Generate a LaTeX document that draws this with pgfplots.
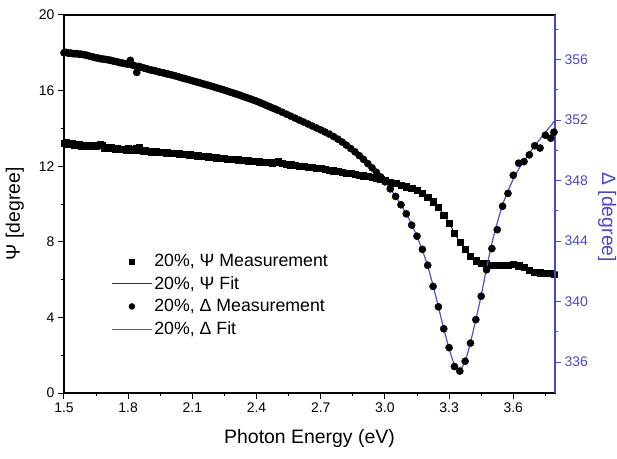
\documentclass[border=0pt]{standalone}
\usepackage{fontspec}
\setmainfont{Liberation Sans}
\usepackage{pgfplots}
\usepackage{pgfplotstable}
\pgfplotsset{compat=1.18}
\definecolor{dblue}{RGB}{72,72,205}
\definecolor{fitblue}{RGB}{80,80,210}

% measured Psi and Delta (degree) vs photon energy (eV)
\pgfplotstableread{
E psi del
1.50 13.20 356.45
1.51 13.24 356.48
1.52 13.16 356.42
1.53 13.19 356.44
1.54 13.22 356.40
1.55 13.12 356.38
1.56 13.15 356.40
1.57 13.17 356.35
1.58 13.08 356.36
1.59 13.12 356.33
1.60 13.10 356.30
1.61 13.06 356.28
1.62 13.08 356.22
1.63 13.05 356.20
1.64 13.09 356.15
1.65 13.04 356.12
1.66 13.10 356.10
1.67 13.18 356.06
1.68 13.12 356.04
1.69 12.98 356.02
1.70 12.96 356.00
1.71 12.99 355.97
1.72 13.02 355.95
1.73 12.94 355.90
1.74 12.92 355.88
1.75 12.95 355.85
1.76 12.90 355.80
1.77 12.88 355.78
1.78 12.92 355.75
1.79 12.86 355.72
1.80 12.94 355.70
1.81 12.90 355.95
1.82 12.84 355.64
1.83 12.86 355.60
1.84 12.96 355.15
1.85 13.00 355.55
1.86 12.84 355.50
1.87 12.80 355.46
1.88 12.82 355.42
1.89 12.78 355.38
1.90 12.80 355.33
1.91 12.76 355.30
1.92 12.74 355.28
1.93 12.80 355.24
1.94 12.76 355.20
1.95 12.74 355.16
1.96 12.72 355.14
1.97 12.74 355.10
1.98 12.71 355.06
1.99 12.70 355.03
2.00 12.70 355.00
2.0125 12.69 354.95
2.0250 12.68 354.90
2.0375 12.66 354.85
2.0500 12.65 354.80
2.0625 12.64 354.75
2.0750 12.62 354.70
2.0875 12.61 354.65
2.1000 12.60 354.60
2.1125 12.58 354.55
2.1250 12.56 354.50
2.1375 12.55 354.45
2.1500 12.53 354.40
2.1625 12.51 354.35
2.1750 12.50 354.30
2.1875 12.48 354.25
2.2000 12.46 354.20
2.2125 12.45 354.14
2.2250 12.43 354.09
2.2375 12.42 354.03
2.2500 12.41 353.98
2.2625 12.39 353.92
2.2750 12.38 353.86
2.2875 12.36 353.81
2.3000 12.35 353.75
2.3125 12.34 353.69
2.3250 12.32 353.63
2.3375 12.31 353.56
2.3500 12.30 353.50
2.3625 12.29 353.44
2.3750 12.27 353.38
2.3875 12.26 353.31
2.4000 12.25 353.25
2.4125 12.24 353.18
2.4250 12.23 353.10
2.4375 12.22 353.03
2.4500 12.21 352.95
2.4625 12.20 352.88
2.4750 12.19 352.80
2.4875 12.22 352.73
2.5000 12.28 352.65
2.52 12.14 352.52
2.54 12.11 352.39
2.56 12.08 352.26
2.58 12.05 352.13
2.60 12.02 352.00
2.62 11.99 351.87
2.64 11.96 351.74
2.66 11.94 351.61
2.68 11.91 351.48
2.70 11.90 351.35
2.72 11.84 351.21
2.74 11.80 351.07
2.76 11.76 350.91
2.78 11.72 350.74
2.80 11.68 350.55
2.82 11.64 350.34
2.84 11.61 350.12
2.86 11.57 349.90
2.88 11.54 349.65
2.90 11.50 349.40
2.92 11.46 349.12
2.94 11.41 348.84
2.96 11.36 348.55
2.98 11.31 348.24
3.000 11.25 347.92
3.025 11.15 347.45
3.050 11.08 346.95
3.075 11.00 346.40
3.100 10.92 345.80
3.125 10.82 345.05
3.150 10.72 344.32
3.175 10.58 343.45
3.200 10.38 342.40
3.225 10.12 341.00
3.250 9.82 339.65
3.275 9.42 338.20
3.300 8.98 336.95
3.325 8.45 335.70
3.350 7.98 335.40
3.375 7.62 336.05
3.400 7.25 337.25
3.425 7.00 338.80
3.450 6.88 340.35
3.475 6.84 342.10
3.500 6.78 343.50
3.525 6.75 344.75
3.550 6.78 346.30
3.575 6.76 347.15
3.600 6.83 348.35
3.625 6.74 349.15
3.650 6.66 349.25
3.675 6.48 349.70
3.700 6.40 350.30
3.725 6.37 350.15
3.750 6.35 351.00
3.775 6.33 350.80
3.790 6.30 351.20
}\meas

\pgfplotstableread{
E psi
1.50 13.18
1.60 13.08
1.70 12.97
1.80 12.87
1.90 12.78
2.00 12.70
2.10 12.60
2.20 12.46
2.30 12.35
2.40 12.25
2.50 12.16
2.60 12.02
2.70 11.88
2.80 11.68
2.90 11.50
3.00 11.25
3.05 11.08
3.10 10.92
3.15 10.72
3.20 10.38
3.25 9.82
3.30 8.98
3.35 7.98
3.40 7.25
3.45 6.88
3.50 6.78
3.60 6.78
3.70 6.45
3.795 6.30
}\psifit

\pgfplotstableread{
E del
1.50 356.45
1.60 356.30
1.70 356.00
1.80 355.65
1.90 355.30
2.00 354.98
2.10 354.60
2.20 354.20
2.30 353.75
2.40 353.25
2.50 352.65
2.60 352.00
2.70 351.33
2.75 350.98
2.80 350.55
2.85 350.02
2.90 349.40
2.95 348.70
3.00 347.92
3.05 346.95
3.10 345.80
3.125 345.10
3.15 344.30
3.175 343.40
3.20 342.35
3.225 341.05
3.25 339.65
3.275 338.20
3.30 336.90
3.32 336.00
3.34 335.55
3.355 335.55
3.37 335.90
3.385 336.50
3.40 337.30
3.425 338.80
3.45 340.40
3.475 342.20
3.50 343.85
3.525 345.20
3.55 346.40
3.575 347.30
3.60 348.10
3.625 348.75
3.65 349.30
3.675 349.80
3.70 350.30
3.725 350.75
3.75 351.20
3.775 351.62
3.795 352.00
}\delfit

\begin{document}
\begin{tikzpicture}
\begin{axis}[
  name=main,
  scale only axis, width=491bp, height=378bp,
  xmin=1.5, xmax=3.795, ymin=0, ymax=20,
  xtick pos=bottom, ytick pos=left,
  tick align=outside,
  major tick length=6bp, minor tick length=3bp,
  xtick={1.5,1.8,2.1,2.4,2.7,3.0,3.3,3.6},
  xticklabels={1.5,1.8,2.1,2.4,2.7,3.0,3.3,3.6},
  minor xtick={1.65,1.95,2.25,2.55,2.85,3.15,3.45,3.75},
  ytick={0,4,8,12,16,20},
  minor ytick={2,6,10,14,18},
  /pgf/number format/assume math mode=true,
  tick label style={font=\fontsize{14}{16}\selectfont},
  axis line style={line width=1.1bp},
  every tick/.style={black, line width=1bp},
  xlabel={Photon Energy (eV)},
  ylabel={Ψ [degree]},
  label style={font=\fontsize{19.5}{22}\selectfont},
  xlabel style={at={(axis description cs:0.5,-0.119)}, anchor=center},
  ylabel style={at={(axis description cs:-0.1,0.474)}, anchor=center},
]
\addplot[only marks, mark=square*, mark size=3.1bp, black] table[x=E,y=psi]{\meas};
\addplot[black, line width=0.8bp, smooth] table[x=E,y=psi]{\psifit};
\end{axis}
\begin{axis}[
  scale only axis, width=491bp, height=378bp,
  xmin=1.5, xmax=3.795, ymin=333.95, ymax=358.95,
  axis y line*=right, axis x line=none,
  tick align=outside,
  major tick length=6bp, minor tick length=3bp,
  ytick={336,340,344,348,352,356},
  minor ytick={338,342,346,350,354,358},
  /pgf/number format/assume math mode=true,
  /pgf/number format/1000 sep={},
  tick label style={font=\fontsize{14}{16}\selectfont, dblue},
  y axis line style={dblue, line width=1.1bp},
  every tick/.style={dblue, line width=1bp},
  ylabel={Δ [degree]},
  ylabel style={dblue, font=\fontsize{19.5}{22}\selectfont, rotate=180, at={(axis description cs:1.106,0.465)}, anchor=center},
  legend cell align=left,
  legend style={at={(0.09,0.378)}, anchor=north west, draw=none, fill=none,
    font=\fontsize{17.8}{20}\selectfont, row sep=4.5bp,
    /tikz/every even column/.append style={column sep=2bp}},
]
\addlegendimage{legend image code/.code={\fill[black] (17.5bp,-2.5bp) rectangle (22.5bp,2.5bp);}}
\addlegendentry{20\%, Ψ Measurement}
\addlegendimage{legend image code/.code={\draw[black!80, line width=0.8bp] (0bp,0bp) -- (40bp,0bp);}}
\addlegendentry{20\%, Ψ Fit}
\addlegendimage{legend image code/.code={\fill[black] (20bp,0bp) circle (3bp);}}
\addlegendentry{20\%, Δ Measurement}
\addlegendimage{legend image code/.code={\draw[fitblue, line width=1bp] (0bp,0bp) -- (40bp,0bp);}}
\addlegendentry{20\%, Δ Fit}
\addplot[only marks, mark=*, mark size=3.6bp, black, forget plot] table[x=E,y=del]{\meas};
\addplot[fitblue, line width=1.2bp, smooth, forget plot] table[x=E,y=del]{\delfit};
\end{axis}
\pgfresetboundingbox
\path[use as bounding box] ([xshift=-64bp,yshift=-66bp]main.south west) rectangle ([xshift=62bp,yshift=15bp]main.north east);
\end{tikzpicture}
\end{document}
